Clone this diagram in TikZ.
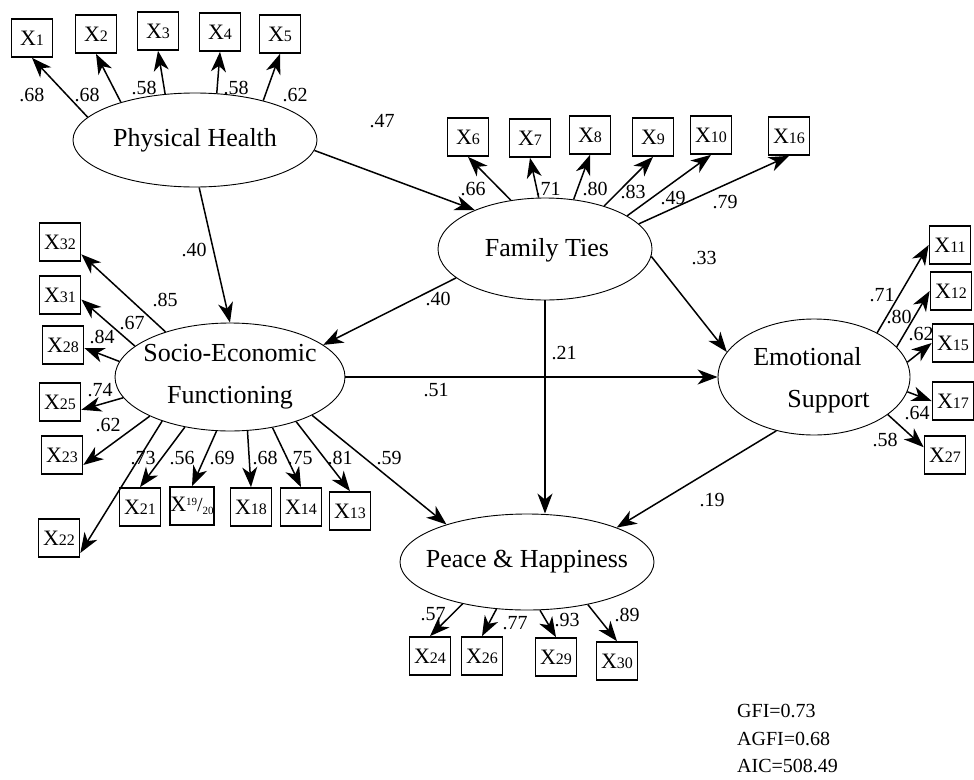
\documentclass[tikz,border=0pt]{standalone}
\usepackage{fontspec}
\setmainfont{Liberation Serif}
\usetikzlibrary{arrows.meta,shapes.geometric}
\tikzstyle{latent} = [ellipse, draw, line width=0.9pt, inner sep=0pt]
\tikzstyle{ltext} = [align=center, inner sep=0pt, font=\fontsize{26}{42}\selectfont]
\tikzstyle{item} = [rectangle, draw, line width=1.7pt, minimum width=41pt, minimum height=38pt, inner sep=0pt]
\tikzstyle{path} = [line width=1.5pt, -{Stealth[length=20pt,width=15pt,inset=6pt]}]
\tikzstyle{coef} = [inner sep=0pt, font=\fontsize{20}{20}\selectfont]
\newcommand{\xlab}[1]{{\fontsize{22}{22}\selectfont X}{\fontsize{16}{16}\selectfont #1}}

\begin{document}
\begin{tikzpicture}[x=1pt,y=-1pt]
\useasboundingbox (0,0) rectangle (974,779);
% latent variables
\node (ph) [latent, minimum width=244pt, minimum height=94pt] at (195,140) {};
\node (ph-t) [ltext] at (ph) {Physical Health};
\node (ft) [latent, minimum width=214pt, minimum height=102pt] at (545,249) {};
\node (ft-t) [ltext] at (547,250) {Family Ties};
\node (sef) [latent, minimum width=230pt, minimum height=108pt] at (230,377) {};
\node (sef-t) [ltext] at (sef) {Socio-Economic\\Functioning};
\node (es) [latent, minimum width=192pt, minimum height=116pt] at (814,377) {};
\node (es-t) [ltext] at (818,380) {Emotional\hspace*{21pt}\\\hspace*{21pt}Support};
\node (pe) [latent, minimum width=254pt, minimum height=96pt] at (527,562) {};
\node (pe-t) [ltext] at (pe) {Peace \& Happiness};

% indicators
\node (x1) [item] at (32,38) {\xlab{1}};
\node (x2) [item] at (96,34) {\xlab{2}};
\node (x3) [item] at (158,31) {\xlab{3}};
\node (x4) [item] at (220,32) {\xlab{4}};
\node (x5) [item] at (280,34) {\xlab{5}};
\node (x6) [item] at (468,137) {\xlab{6}};
\node (x7) [item] at (530,138) {\xlab{7}};
\node (x8) [item] at (590,135) {\xlab{8}};
\node (x9) [item] at (653,137) {\xlab{9}};
\node (x10) [item] at (711,135) {\xlab{10}};
\node (x16) [item] at (789,136) {\xlab{16}};
\node (x32) [item] at (60,242) {\xlab{32}};
\node (x31) [item] at (60,295) {\xlab{31}};
\node (x28) [item] at (63,345) {\xlab{28}};
\node (x25) [item] at (60,402) {\xlab{25}};
\node (x23) [item] at (62,455) {\xlab{23}};
\node (x22) [item] at (59,538) {\xlab{22}};
\node (x21) [item] at (140,507) {\xlab{21}};
\node (x1920) [item] at (192,506) {{\fontsize{22}{22}\selectfont X}\raisebox{6pt}{\fontsize{11}{11}\selectfont 19}{\fontsize{20}{20}\selectfont /}\raisebox{-3pt}{\fontsize{11}{11}\selectfont 20}};
\node (x18) [item] at (251,507) {\xlab{18}};
\node (x14) [item] at (301,507) {\xlab{14}};
\node (x13) [item] at (350,511) {\xlab{13}};
\node (x11) [item] at (950,245) {\xlab{11}};
\node (x12) [item] at (951,291) {\xlab{12}};
\node (x15) [item] at (953,343) {\xlab{15}};
\node (x17) [item] at (953,401) {\xlab{17}};
\node (x27) [item] at (945,455) {\xlab{27}};
\node (x24) [item] at (430,656) {\xlab{24}};
\node (x26) [item] at (482,656) {\xlab{26}};
\node (x29) [item] at (556,657) {\xlab{29}};
\node (x30) [item] at (617,661) {\xlab{30}};

% structural paths
\draw[path] (ph.-5) -- (ft.151);
\draw[path] (ph.-85) -- (sef.north);
\draw[path] (ft.198) -- (sef.19);
\draw[path] (ft.-4) -- (es.164);
\draw[path] (sef.east) -- (es.west);
\draw[path] (ft.south) -- (ft.south |- pe.north);
\draw[path] (es.235) -- (pe.21);
\draw[path] (sef.-25) -- (pe.155);

% measurement paths
\draw[path] (ph.168) -- (x1.south);
\draw[path] (ph.153) -- (x2.south);
\draw[path] (ph.123) -- (x3.south);
\draw[path] (ph.65) -- (x4.south);
\draw[path] (ph.30) -- (x5.south);
\draw[path] (ft.125) -- (x6.south);
\draw[path] (ft.97) -- (x7.south);
\draw[path] (ft.60) -- (x8.south);
\draw[path] (ft.36) -- (x9.south);
\draw[path] (ft.22) -- (x10.south);
\draw[path] (ft.15) -- (x16.south);
\draw[path] (sef.145) -- (x32.-30);
\draw[path] (sef.162) -- (x31.-12);
\draw[path] (sef.172) -- (x28.-8);
\draw[path] (sef.191) -- (x25.-20);
\draw[path] (sef.206) -- (x23.-25);
\draw[path] (sef.213) -- (x22.-35);
\draw[path] (sef.228) -- (x21.north);
\draw[path] (sef.256) -- (x1920.north);
\draw[path] (sef.-72) -- (x18.north);
\draw[path] (sef.-50) -- (x14.north);
\draw[path] (sef.-34) -- (x13.north);
\draw[path] (es.35) -- (x11.west);
\draw[path] (es.20) -- (x12.west);
\draw[path] (es.9) -- (x15.west);
\draw[path] (es.-9) -- (x17.west);
\draw[path] (es.-27) -- (x27.160);
\draw[path] (pe.213) -- (x24.north);
\draw[path] (pe.237) -- (x26.north);
\draw[path] (pe.-75) -- (x29.north);
\draw[path] (pe.-35) -- (x30.north);

% coefficients
\node (c1) [coef] at (32,95) {.68};
\node (c2) [coef] at (87,95) {.68};
\node (c3) [coef] at (144,88) {.58};
\node (c4) [coef] at (236,88) {.58};
\node (c5) [coef] at (295,95) {.62};
\node (c6) [coef] at (473,189) {.66};
\node (c7) [coef] at (548,189) {.71};
\node (c8) [coef] at (595,189) {.80};
\node (c9) [coef] at (633,192) {.83};
\node (c10) [coef] at (673,198) {.49};
\node (c16) [coef] at (725,202) {.79};
\node (c32) [coef] at (165,300) {.85};
\node (c31) [coef] at (132,323) {.67};
\node (c28) [coef] at (102,337) {.84};
\node (c25) [coef] at (100,390) {.74};
\node (c23) [coef] at (108,425) {.62};
\node (c22) [coef] at (143,458) {.73};
\node (c21) [coef] at (182,458) {.56};
\node (c1920) [coef] at (222,458) {.69};
\node (c18) [coef] at (265,458) {.68};
\node (c14) [coef] at (300,458) {.75};
\node (c13) [coef] at (340,458) {.81};
\node (c11) [coef] at (882,295) {.71};
\node (c12) [coef] at (899,317) {.80};
\node (c15) [coef] at (921,334) {.62};
\node (c17) [coef] at (917,413) {.64};
\node (c27) [coef] at (885,440) {.58};
\node (c24) [coef] at (433,614) {.57};
\node (c26) [coef] at (515,623) {.77};
\node (c29) [coef] at (567,620) {.93};
\node (c30) [coef] at (627,615) {.89};
\node (b-ph-ft) [coef] at (382,121) {.47};
\node (b-ph-sef) [coef] at (194,250) {.40};
\node (b-ft-sef) [coef] at (438,299) {.40};
\node (b-ft-es) [coef] at (704,258) {.33};
\node (b-ft-pe) [coef] at (564,353) {.21};
\node (b-sef-es) [coef] at (436,390) {.51};
\node (b-es-pe) [coef] at (712,500) {.19};
\node (b-sef-pe) [coef] at (389,458) {.59};

% fit indices
\node (fit) [anchor=north west, align=left, inner sep=0pt, font=\fontsize{20}{27.5}\selectfont] at (737,704) {GFI=0.73\\AGFI=0.68\\AIC=508.49};
\end{tikzpicture}
\end{document}
